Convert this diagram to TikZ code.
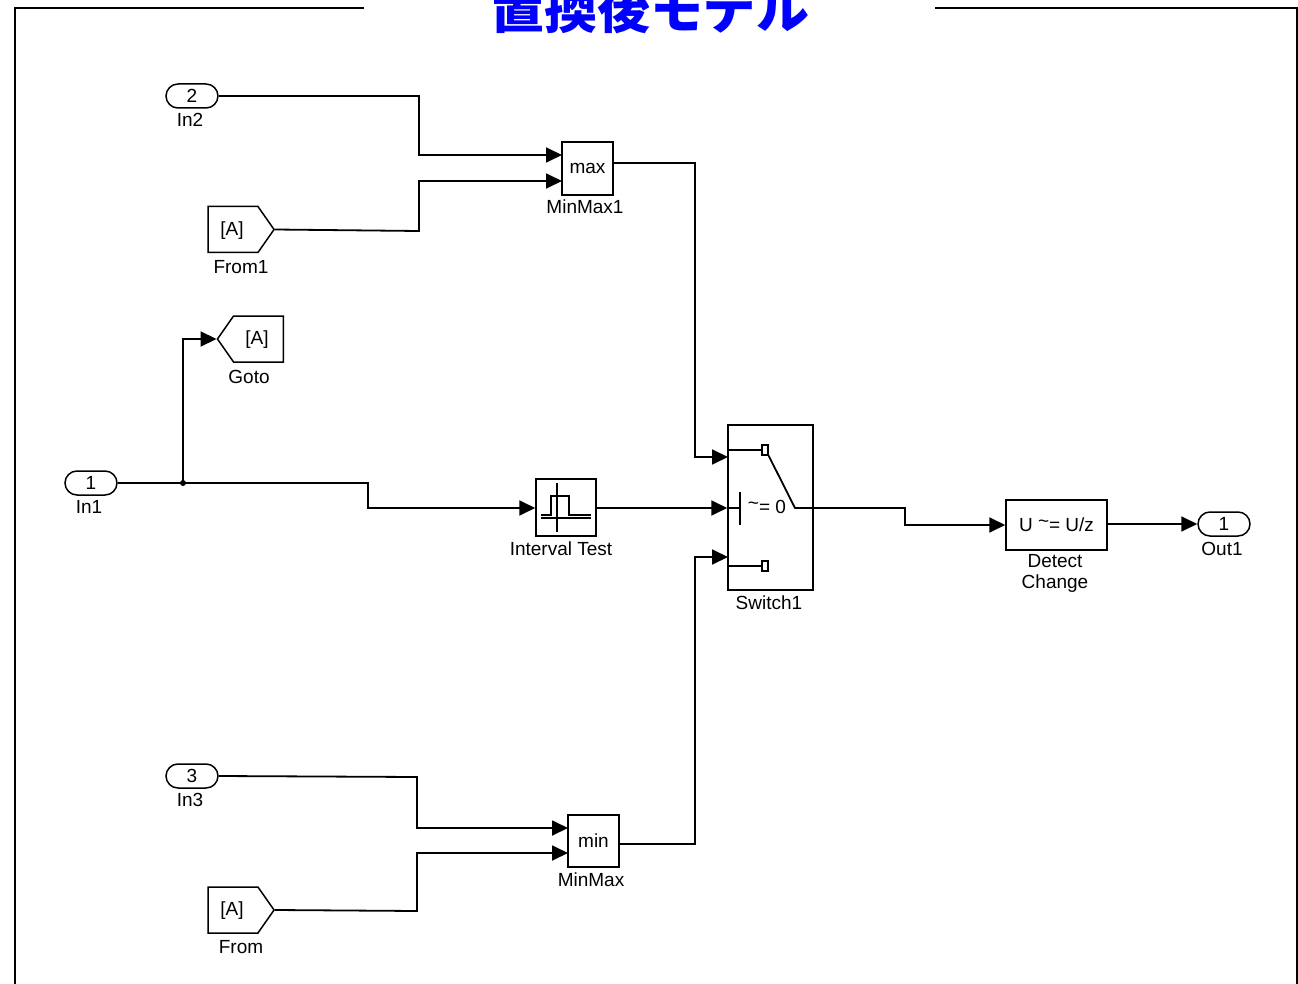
\documentclass[tikz,border=0pt]{standalone}
\usepackage{fontspec}
\setmainfont{Liberation Sans}
\newfontfamily\cjk{Noto Sans CJK JP}
\usetikzlibrary{arrows.meta}
\usetikzlibrary{shapes.misc}
\usetikzlibrary{shapes.symbols}

\begin{document}
\begin{tikzpicture}[x=1pt,y=-1pt]
    \tikzstyle{edge}=[draw=black,line width=1.8pt,-]
    \tikzstyle{wire}=[edge,-{Triangle[length=16pt,width=15pt]}]
    \tikzstyle{frame}=[draw=black,line width=2pt]
    \tikzstyle{block}=[rectangle,draw=black,line width=1.5pt,inner sep=0pt,font=\fontsize{19}{22}\selectfont]
    \tikzstyle{port}=[rounded rectangle,draw=black,line width=1.5pt,minimum width=52pt,minimum height=24pt,inner sep=0pt,font=\fontsize{19}{22}\selectfont]
    \tikzstyle{tagbox}=[signal,draw=black,line width=1.5pt,signal pointer angle=110,minimum width=66pt,minimum height=46pt,inner sep=0pt]
    \tikzstyle{caption}=[inner sep=0pt,align=center,font=\fontsize{19}{21}\selectfont]

    \def\tld{\raisebox{4pt}{\textasciitilde}}

    \clip (0,0) rectangle (1298,984);

    % outer frame and title
    \draw[frame] (364,8) -- (14.5,8) -- (14.5,984);
    \draw[frame] (935,8) -- (1297,8) -- (1297,984);
    \node[anchor=base,inner sep=0pt,text=blue,font=\cjk\bfseries\fontsize{53}{53}\selectfont] (title) at (650,29) {置換後モデル};

    % inputs and output
    \node[port] (in1)  at (91,483)   {1};
    \node[port] (in2)  at (192,96)   {2};
    \node[port] (in3)  at (192,776)  {3};
    \node[port] (out1) at (1224,524) {1};

    \node[caption] (in1l)  at (89,507)   {In1};
    \node[caption] (in2l)  at (190,120)  {In2};
    \node[caption] (in3l)  at (190,800)  {In3};
    \node[caption] (out1l) at (1222,549) {Out1};

    % from and goto tags
    \node[tagbox,signal to=east] (from1) at (233,229.5) {};
    \node[tagbox,signal to=east] (from)  at (233,910)   {};
    \node[tagbox,signal to=west] (goto)  at (258.5,339) {};

    \node[caption] (from1t) at (232,231) {[A]};
    \node[caption] (fromt)  at (232,911) {[A]};
    \node[caption] (gotot)  at (257,340) {[A]};
    \node[caption] (from1l) at (241,267) {From1};
    \node[caption] (froml)  at (241,947) {From};
    \node[caption] (gotol)  at (249,377) {Goto};

    % blocks
    \node[block,minimum width=51pt,minimum height=53pt] (mm1) at (587.5,168.5) {\raisebox{-1.5pt}{max}};
    \node[block,minimum width=51pt,minimum height=52pt] (mm)  at (593.5,841)   {\raisebox{-1pt}{min}};
    \node[block,minimum width=60pt,minimum height=57pt] (test) at (566,507.5)  {};
    \node[block,minimum width=85pt,minimum height=165pt] (sw) at (770.5,507.5) {};
    \node[block,minimum width=101pt,minimum height=50pt] (det) at (1056.5,525) {U \tld= U/z};

    \node[caption] (mm1l)  at (585,207) {MinMax1};
    \node[caption] (mml)   at (591,880) {MinMax};
    \node[caption] (testl) at (561,549) {Interval Test};
    \node[caption] (swl)   at (769,603) {Switch1};
    \node[caption] (detl)  at (1055,573) {Detect\\Change};

    % interval test icon
    \draw[line width=1.2pt] (541,515) -- (551,515) -- (551,496) -- (569,496) -- (569,515) -- (591,515);
    \draw[line width=1.2pt] (541,518) -- (591,518);
    \draw[line width=1.2pt] (557,483) -- (557,532);

    % switch inside
    \node[rectangle,draw=black,line width=1.2pt,minimum width=6pt,minimum height=10pt,inner sep=0pt] (sw1) at (765,450) {};
    \node[rectangle,draw=black,line width=1.2pt,minimum width=6pt,minimum height=10pt,inner sep=0pt] (sw3) at (765,566) {};
    \coordinate (swp) at (795,508);
    \coordinate (swb) at (740,508);
    \node[caption] (swt) at (767,507) {\tld= 0};
    \path[edge] (sw.west |- sw1) -- (sw1);
    \path[edge] (sw.west |- sw3) -- (sw3);
    \path[edge] (sw.west |- swb) -- (swb);
    \path[edge] (740,492) -- (740,525);
    \path[edge] (sw1.south east) -- (swp) -- (sw.east |- swp);

    % connectors
    \coordinate (mm1a) at (562,155);
    \coordinate (mm1b) at (562,181);
    \coordinate (mma)  at (568,828);
    \coordinate (mmb)  at (568,853);
    \coordinate (swa)  at (728,457);
    \coordinate (swc)  at (728,557);
    \coordinate (jn)   at (183,483);

    \path[wire] (in2.east) -- (419,96) -- (419,155) -- (mm1a);
    \path[wire] (from1.east) -- (419,231) -- (419,181) -- (mm1b);
    \path[wire] (mm1.east |- 0,163) -- (695,163) -- (695,457) -- (swa);

    \path[wire] (in3.east) -- (417,777) -- (417,828) -- (mma);
    \path[wire] (from.east) -- (417,911) -- (417,853) -- (mmb);
    \path[wire] (mm.east |- 0,844) -- (695,844) -- (695,557) -- (swc);

    \path[wire] (in1.east) -- (368,483) -- (368,508) -- (test.west |- swb);
    \path[wire] (jn) |- (goto.west);
    \fill (jn) circle (3pt);
    \path[wire] (test.east |- swb) -- (sw.west |- swb);

    \path[wire] (sw.east |- swp) -- (905,508) -- (905,525) -- (det.west);
    \path[wire] (det.east |- out1) -- (out1.west);
\end{tikzpicture}
\end{document}
